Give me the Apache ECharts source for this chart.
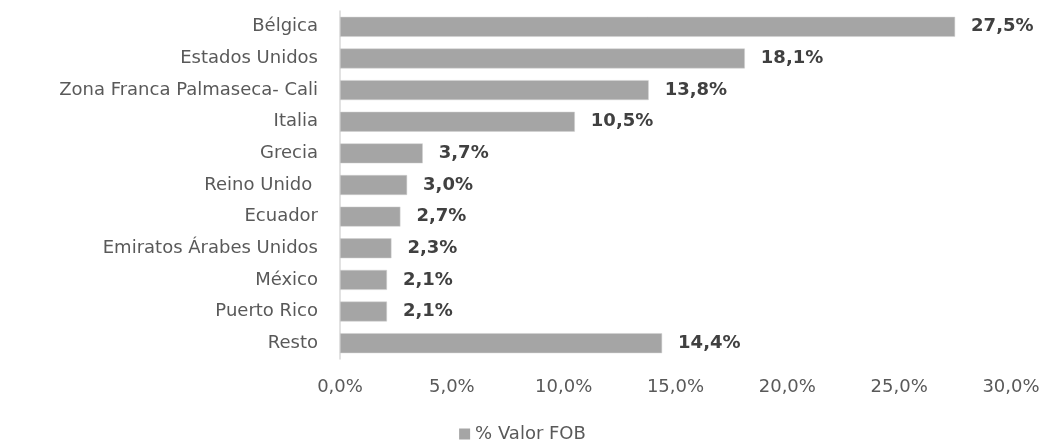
<!DOCTYPE html>
<html>
<head>
<meta charset="utf-8">
<script src="https://cdn.jsdelivr.net/npm/echarts@6/dist/echarts.min.js"></script>
<style>
  html, body { margin: 0; padding: 0; background: #fff; }
  #chart { width: 1045px; height: 445px; }
</style>
</head>
<body>
<div id="chart"></div>
<script>
// paises destino, de arriba a abajo
const paises = ['Bélgica', 'Estados Unidos', 'Zona Franca Palmaseca- Cali', 'Italia', 'Grecia',
  'Reino Unido ', 'Ecuador', 'Emiratos Árabes Unidos', 'México', 'Puerto Rico', 'Resto']
const valorFOB = [27.5, 18.1, 13.8, 10.5, 3.7, 3.0, 2.7, 2.3, 2.1, 2.1, 14.4]
const serieNombre = '% Valor FOB'

const fuente = 'DejaVu Sans'
let chart = echarts.init(document.getElementById('chart'))

const fmt = v => v.toFixed(1).replace('.', ',') + '%'

// eje de categorias invertido para que Bélgica quede arriba
let option = {
  animation: false,
  grid: {
    left: 340,
    right: 34,
    top: 11,
    bottom: 86
  },
  legend: {
    bottom: -3,
    left: 'center',
    data: [serieNombre],
    icon: 'rect',
    itemWidth: 11,
    itemHeight: 11,
    itemGap: 4,
    itemStyle: { borderWidth: 0 },
    textStyle: { color: '#595959', fontSize: 18, fontFamily: fuente }
  },
  xAxis: {
    type: 'value',
    min: 0,
    max: 30,
    interval: 5,
    axisLine: { show: false },
    axisTick: { show: false },
    splitLine: { show: false },
    axisLabel: {
      color: '#595959',
      fontSize: 18,
      fontFamily: fuente,
      margin: 19,
      formatter: fmt
    }
  },
  yAxis: {
    type: 'category',
    inverse: true,
    data: paises,
    axisLine: { show: true, lineStyle: { color: '#d9d9d9', width: 1.5 } },
    axisTick: { show: false },
    axisLabel: {
      color: '#595959',
      fontSize: 18,
      fontFamily: fuente,
      margin: 22
    }
  },
  series: [{
    name: serieNombre,
    type: 'bar',
    data: valorFOB,
    barCategoryGap: '37%',
    itemStyle: { color: '#a5a5a5', borderColor: '#d0d0d0', borderWidth: 0.5 },
    label: {
      show: true,
      position: 'right',
      distance: 16,
      color: '#404040',
      fontWeight: 'bold',
      fontSize: 18,
      fontFamily: fuente,
      formatter: p => fmt(p.value)
    }
  }]
}

chart.setOption(option)
</script>
</body>
</html>
